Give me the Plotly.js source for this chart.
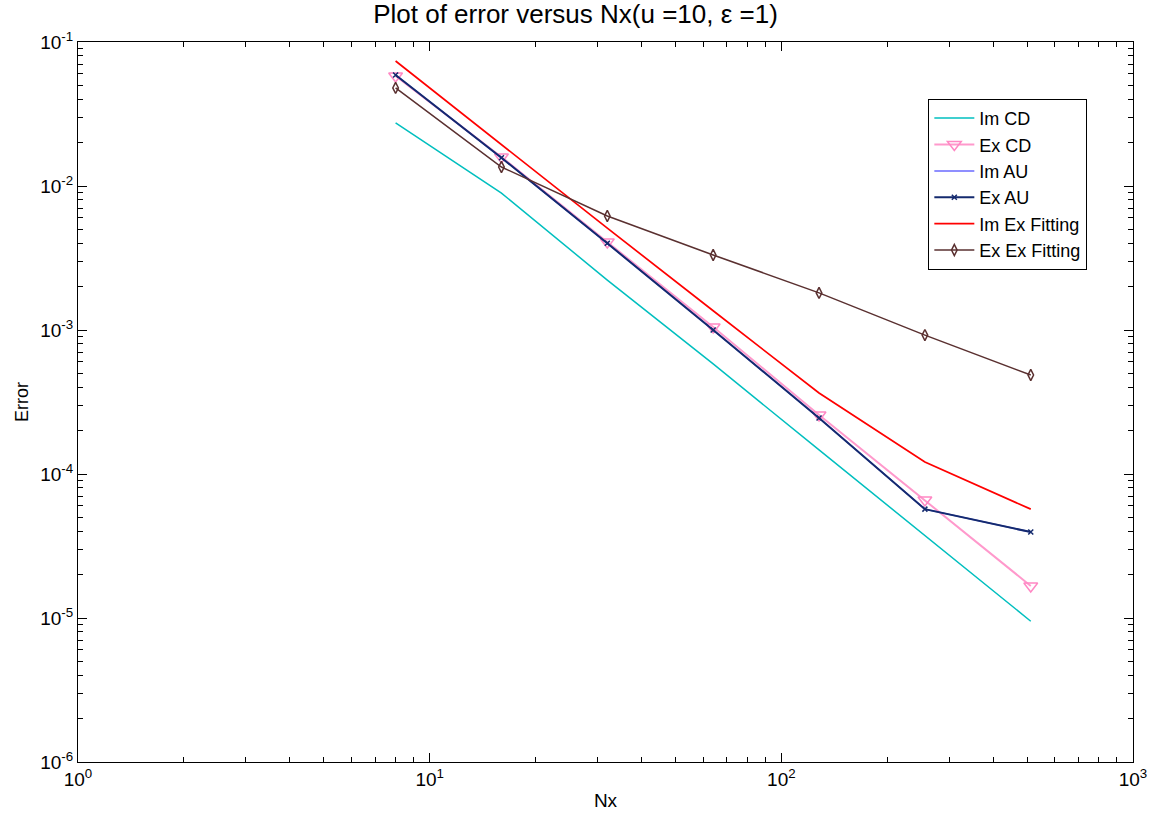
<!DOCTYPE html>
<html>
<head>
<meta charset="utf-8">
<script src="https://cdn.plot.ly/plotly-3.0.1.min.js"></script>
<style>html,body{margin:0;padding:0;background:#fff;}#chart{width:1151px;height:820px;}</style>
</head>
<body>
<div id="chart"></div>
<script>
const nx = [8, 16, 32, 64, 128, 256, 512];
const imCD = [0.0274, 0.00893, 0.00222, 0.000581, 0.000147, 0.0000372, 0.0000095];
const exCD = [0.058, 0.0159, 0.00408, 0.00105, 0.000257, 0.000066, 0.0000167];
const imAU = [0.059, 0.0157, 0.0040, 0.00100, 0.000245, 0.000057, 0.0000395];
const exAU = [0.059, 0.0157, 0.0040, 0.00100, 0.000245, 0.000057, 0.0000395];
const imExFit = [0.0738, 0.0193, 0.0051, 0.00136, 0.000365, 0.000121, 0.000057];
const exExFit = [0.048, 0.01355, 0.00619, 0.00332, 0.00181, 0.000922, 0.000487];

const xTickVals = [1, 10, 100, 1000];
const xTickText = ['10<sup>0</sup>', '10<sup>1</sup>', '10<sup>2</sup>', '10<sup>3</sup>'];
const yTickVals = [1e-6, 1e-5, 1e-4, 1e-3, 1e-2, 1e-1];
const yTickText = ['10<sup>-6</sup>', '10<sup>-5</sup>', '10<sup>-4</sup>', '10<sup>-3</sup>', '10<sup>-2</sup>', '10<sup>-1</sup>'];

function minorVals(lo, hi) {
  const v = [];
  for (let e = lo; e < hi; e++) for (let d = 2; d <= 9; d++) v.push(d * Math.pow(10, e));
  return v;
}

const traces = [
  {x: nx, y: imCD, name: 'Im CD', mode: 'lines', line: {color: '#00bfbf', width: 1.5}},
  {x: nx, y: exCD, name: 'Ex CD', mode: 'lines+markers', line: {color: '#ff99cc', width: 2},
   marker: {symbol: 'triangle-down-open', size: 12, color: '#ff88c4', line: {width: 1.5}}},
  {x: nx, y: imAU, name: 'Im AU', mode: 'lines', line: {color: '#6a6aff', width: 1.5}},
  {x: nx, y: exAU, name: 'Ex AU', mode: 'lines+markers', line: {color: '#142a6e', width: 2},
   marker: {symbol: 'x-thin-open', size: 5, color: '#142a6e', line: {width: 1.5, color: '#142a6e'}}},
  {x: nx, y: imExFit, name: 'Im Ex Fitting', mode: 'lines', line: {color: '#ff0000', width: 1.7}},
  {x: nx, y: exExFit, name: 'Ex Ex Fitting', mode: 'lines+markers', line: {color: '#5a3030', width: 1.5},
   marker: {symbol: 'diamond-tall-open', size: 8, color: '#5a3030', line: {width: 1.5}}}
];

const axisCommon = {
  type: 'log', showgrid: false, zeroline: false,
  showline: true, linecolor: '#000', linewidth: 1, mirror: 'allticks',
  ticks: 'inside', ticklen: 9, tickcolor: '#000', tickwidth: 1,
  tickfont: {family: 'Liberation Sans, Arial, sans-serif', size: 19, color: '#000'},
  tickmode: 'array'
};

const layout = {
  width: 1151, height: 820,
  paper_bgcolor: '#fff', plot_bgcolor: '#fff',
  margin: {l: 78, r: 18, t: 42, b: 58},
  font: {family: 'Liberation Sans, Arial, sans-serif', color: '#000'},
  title: {text: 'Plot of error versus Nx(u =10, \u03b5 =1)', font: {size: 26, color: '#000'}, x: 0.5, xanchor: 'center', y: 0.994, yanchor: 'top'},
  xaxis: Object.assign({}, axisCommon, {
    range: [0, 3], tickvals: xTickVals, ticktext: xTickText,
    minor: {tickvals: minorVals(0, 3), ticks: 'inside', ticklen: 5, tickcolor: '#000', showgrid: false},
    title: {text: 'Nx', font: {size: 19, color: '#000'}, standoff: 4}
  }),
  yaxis: Object.assign({}, axisCommon, {
    range: [-6, -1], tickvals: yTickVals, ticktext: yTickText,
    minor: {tickvals: minorVals(-6, -1), ticks: 'inside', ticklen: 5, tickcolor: '#000', showgrid: false},
    title: {text: 'Error', font: {size: 18, color: '#000'}, standoff: 6}
  }),
  showlegend: true,
  legend: {
    x: 0.806, y: 0.921, xanchor: 'left', yanchor: 'top',
    bgcolor: '#fff', bordercolor: '#000', borderwidth: 1,
    font: {size: 18, color: '#000'}, itemwidth: 40, tracegroupgap: 0
  }
};

Plotly.newPlot('chart', traces, layout, {displayModeBar: false, staticPlot: true});
</script>
</body>
</html>
